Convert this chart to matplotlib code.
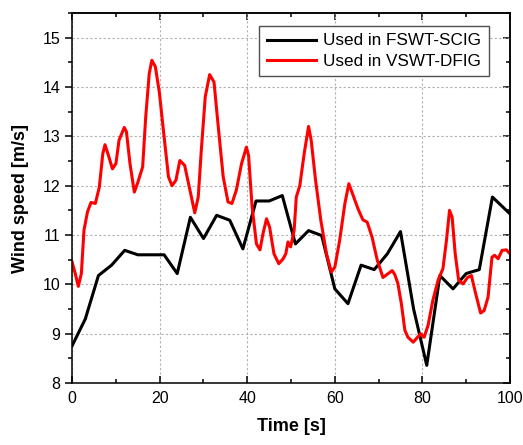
import matplotlib
matplotlib.use("Agg")
import matplotlib.pyplot as plt
from matplotlib.ticker import MultipleLocator

plt.rcParams['font.family'] = ['Liberation Sans', 'DejaVu Sans']

# wind speed used for the fixed-speed turbine (piecewise linear)
t_fswt = [0, 3, 6, 9, 12, 15, 18, 21, 24, 27, 30, 33, 36, 39, 42, 45, 48, 51,
          54, 57, 60, 63, 66, 69, 72, 75, 78, 81, 84, 87, 90, 93, 96, 100]
v_fswt = [8.76, 9.30, 10.18, 10.39, 10.69, 10.60, 10.60, 10.60, 10.22, 11.36,
          10.93, 11.40, 11.30, 10.72, 11.69, 11.69, 11.80, 10.82, 11.09, 10.99,
          9.91, 9.61, 10.39, 10.30, 10.62, 11.07, 9.50, 8.36, 10.18, 9.91,
          10.22, 10.30, 11.77, 11.43]

# wind speed used for the variable-speed turbine
t_vswt = [0, 0.7, 1.4, 2.1, 2.7, 3.5, 4.3, 5.3, 6.2, 7.0, 7.5, 8.3, 9.2, 10.0,
          10.7, 11.9, 12.4, 13.2, 14.2, 14.9, 16.1, 16.8, 17.6, 18.2, 19.0,
          19.9, 21.0, 22.0, 22.8, 23.7, 24.6, 25.7, 26.9, 28.0, 28.8, 29.5,
          30.4, 31.4, 32.4, 33.3, 34.5, 35.6, 36.5, 37.5, 38.7, 39.8, 40.3,
          41.1, 42.1, 42.9, 43.6, 44.4, 45.1, 46.1, 47.2, 48.2, 48.8, 49.3,
          49.9, 50.7, 51.2, 52.0, 53.0, 54.0, 54.6, 55.6, 56.8, 58.1, 59.2,
          60.0, 61.1, 62.3, 63.2, 64.2, 65.3, 66.4, 67.4, 68.5, 69.7, 71.0,
          72.2, 73.1, 73.7, 74.4, 75.2, 76.0, 76.7, 77.9, 78.9, 79.6, 80.4,
          81.3, 82.4, 83.6, 84.7, 85.5, 86.2, 86.8, 87.5, 88.3, 89.3, 90.3,
          91.2, 92.1, 93.3, 94.1, 95.0, 95.9, 96.5, 97.3, 98.2, 99.2, 100]
v_vswt = [10.45, 10.22, 9.96, 10.22, 11.10, 11.47, 11.66, 11.64, 11.97, 12.65,
          12.83, 12.61, 12.34, 12.45, 12.92, 13.18, 13.09, 12.45, 11.87, 12.04,
          12.38, 13.39, 14.27, 14.54, 14.41, 13.90, 12.99, 12.18, 12.00, 12.11,
          12.51, 12.41, 11.91, 11.45, 11.77, 12.72, 13.80, 14.25, 14.10, 13.26,
          12.18, 11.67, 11.64, 11.91, 12.45, 12.78, 12.61, 11.57, 10.82, 10.70,
          11.03, 11.33, 11.16, 10.62, 10.42, 10.52, 10.62, 10.86, 10.76, 11.09,
          11.77, 12.00, 12.65, 13.20, 12.92, 12.11, 11.30, 10.62, 10.25, 10.35,
          10.89, 11.64, 12.04, 11.80, 11.53, 11.31, 11.26, 10.96, 10.49, 10.14,
          10.22, 10.28, 10.20, 10.02, 9.61, 9.07, 8.93, 8.83, 8.93, 9.00, 8.93,
          9.17, 9.68, 10.09, 10.32, 10.89, 11.50, 11.36, 10.62, 10.08, 10.01,
          10.14, 10.18, 9.84, 9.42, 9.47, 9.74, 10.55, 10.59, 10.52, 10.69,
          10.70, 10.62]

fig = plt.figure(figsize=(5.23, 4.45), dpi=100)
ax = fig.add_axes([0.138, 0.139, 0.837, 0.832])

ax.plot(t_fswt, v_fswt, color='black', lw=2.2, label='Used in FSWT-SCIG')
ax.plot(t_vswt, v_vswt, color='red', lw=2.2, label='Used in VSWT-DFIG',
        solid_joinstyle='round')

ax.set_xlim(0, 100)
ax.set_ylim(8, 15.5)
ax.xaxis.set_major_locator(MultipleLocator(20))
ax.xaxis.set_minor_locator(MultipleLocator(10))
ax.yaxis.set_major_locator(MultipleLocator(1))
ax.yaxis.set_minor_locator(MultipleLocator(0.5))

ax.grid(True, which='major', color='#b0b0b0', linestyle=(0, (2, 2)), lw=0.8)

ax.tick_params(axis='x', which='both', direction='in', top=False, labelsize=11.5,
               pad=6, width=1.1)
ax.tick_params(axis='y', which='both', direction='out', right=False, labelsize=11.5,
               width=1.1)
ax.tick_params(which='major', length=5)
ax.tick_params(which='minor', length=3)

# inward ticks on top and right, no labels
top = ax.secondary_xaxis('top')
top.xaxis.set_major_locator(MultipleLocator(20))
top.xaxis.set_minor_locator(MultipleLocator(10))
top.tick_params(which='both', direction='in', labeltop=False, width=1.1)
top.tick_params(which='major', length=5)
top.tick_params(which='minor', length=3)
right = ax.secondary_yaxis('right')
right.yaxis.set_major_locator(MultipleLocator(1))
right.yaxis.set_minor_locator(MultipleLocator(0.5))
right.tick_params(which='both', direction='in', labelright=False, width=1.1)
right.tick_params(which='major', length=5)
right.tick_params(which='minor', length=3)

for sp in list(ax.spines.values()) + [top.spines['top'], right.spines['right']]:
    sp.set_linewidth(1.1)

ax.set_xlabel('Time [s]', fontsize=13, fontweight='bold', labelpad=8)
ax.set_ylabel('Wind speed [m/s]', fontsize=13, fontweight='bold', labelpad=10)

leg = ax.legend(loc='upper right', bbox_to_anchor=(0.935, 0.942),
                bbox_transform=fig.transFigure, fontsize=12.3, fancybox=False,
                framealpha=1, edgecolor='#505050', handlelength=2.9,
                borderpad=0.45, labelspacing=0.3, handletextpad=0.4,
                borderaxespad=0)
leg.get_frame().set_linewidth(1.0)

fig.savefig('out.png', dpi=100)
